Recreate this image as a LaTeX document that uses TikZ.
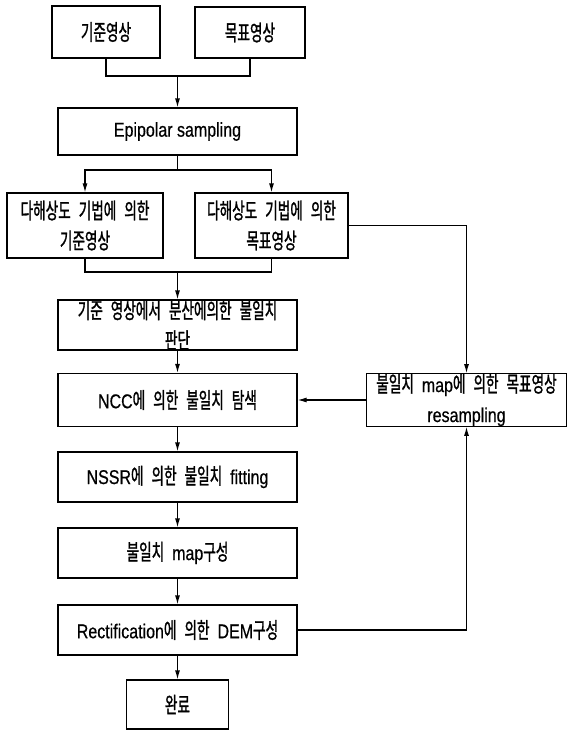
\documentclass[tikz,border=0pt]{standalone}
\usepackage{fontspec}
\setmainfont{Liberation Sans}[FakeStretch=0.8,FakeBold=0.5]
\newfontfamily\kr{Noto Sans CJK KR}[Scale=1.1,FakeStretch=0.62,FakeBold=1.2,WordSpace=2.6]
\usetikzlibrary{arrows.meta}
\tikzset{
  box/.style={draw, line width=1.2pt, align=center, inner sep=0pt,
    font=\fontsize{20}{30}\selectfont},
  arr/.style={line width=1.2pt, -{Latex[length=9pt,width=5pt]}},
  ln/.style={line width=1.2pt},
}
\begin{document}
\begin{tikzpicture}[x=1pt,y=-1pt]
\useasboundingbox (0,0) rectangle (568,731);
% nodes
\node[box, minimum width=108pt, minimum height=52pt] (A) at (106,32) {{\kr 기준영상}};
\node[box, minimum width=110pt, minimum height=51pt] (B) at (250,32.5) {{\kr 목표영상}};
\node[box, minimum width=239pt, minimum height=47pt] (C) at (177.5,131.5) {Epipolar sampling};
\node[box, minimum width=156pt, minimum height=65pt] (D) at (85,225.5) {{\kr 다해상도 기법에 의한}\\{\kr 기준영상}};
\node[box, minimum width=153pt, minimum height=65pt] (E) at (271.5,225.5) {{\kr 다해상도 기법에 의한}\\{\kr 목표영상}};
\node[box, minimum width=239pt, minimum height=50pt] (F) at (177.5,325) {{\kr 기준 영상에서 분산에의한 불일치}\\{\kr 판단}};
\node[box, minimum width=239pt, minimum height=53pt] (G) at (177.5,400) {NCC{\kr 에 의한 불일치 탐색}};
\node[box, minimum width=200pt, minimum height=52pt] (H) at (466.5,400) {{\kr 불일치 }map{\kr 에 의한 목표영상}\\resampling};
\node[box, minimum width=239pt, minimum height=50pt] (I) at (177.5,477) {NSSR{\kr 에 의한 불일치 }fitting};
\node[box, minimum width=239pt, minimum height=50pt] (J) at (177.5,553) {{\kr 불일치 }map{\kr 구성}};
\node[box, minimum width=239pt, minimum height=50pt] (K) at (177.5,630) {Rectification{\kr 에 의한 }DEM{\kr 구성}};
\node[box, minimum width=102pt, minimum height=49pt] (L) at (177.5,704.5) {{\kr 완료}};
% junctions
\coordinate (j1) at (177.5,76);
\coordinate (j2) at (177.5,170);
\coordinate (j3) at (177.5,272);
% connectors
\draw[ln] (A.south) -- (A.south |- j1) -- (B.south |- j1) -- (B.south);
\draw[arr] (j1) -- (C.north);
\draw[ln] (C.south) -- (j2);
\draw[arr] (j2) -| (D.north);
\draw[arr] (j2) -| (E.north);
\draw[ln] (D.south) |- (j3) -| (E.south);
\draw[arr] (j3) -- (F.north);
\draw[arr] (F) -- (G);
\draw[arr] (G) -- (I);
\draw[arr] (I) -- (J);
\draw[arr] (J) -- (K);
\draw[arr] (K) -- (L);
\draw[arr] (E.east) -| (H.north);
\draw[arr] (K.east) -| (H.south);
\draw[arr] (H.west) -- (G.east);
\end{tikzpicture}
\end{document}
